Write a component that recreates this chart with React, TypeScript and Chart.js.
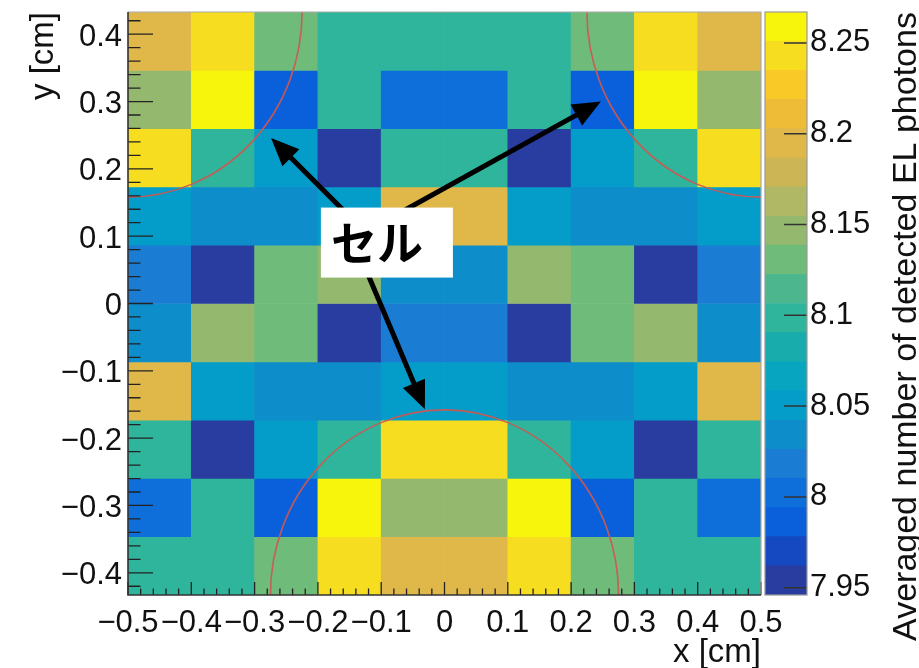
import React, { useEffect, useRef } from 'react';
import { Chart, registerables } from 'chart.js';

Chart.register(...registerables);

// ---------- data ----------
const xBinCenters = [-0.45, -0.35, -0.25, -0.15, -0.05, 0.05, 0.15, 0.25, 0.35, 0.45];
// row edges, top (y = 0.433) to bottom (y = -0.433)
const yBinEdges = [0.433, 0.3464, 0.2598, 0.1732, 0.0866, 0, -0.0866, -0.1732, -0.2598, -0.3464, -0.433];

// Averaged number of detected EL photons, one array per row (top to bottom)
const rowY1 = [8.196, 8.244, 8.130, 8.099, 8.100, 8.100, 8.099, 8.131, 8.243, 8.195];
const rowY2 = [8.147, 8.262, 7.986, 8.098, 8.003, 8.002, 8.099, 7.987, 8.264, 8.148];
const rowY3 = [8.242, 8.097, 8.051, 7.953, 8.098, 8.099, 7.954, 8.050, 8.098, 8.244];
const rowY4 = [8.051, 8.034, 8.035, 8.050, 8.195, 8.196, 8.051, 8.034, 8.035, 8.050];
const rowY5 = [8.018, 7.955, 8.131, 8.146, 8.034, 8.035, 8.147, 8.130, 7.954, 8.019];
const rowY6 = [8.034, 8.147, 8.130, 7.953, 8.019, 8.018, 7.955, 8.131, 8.146, 8.035];
const rowY7 = [8.195, 8.050, 8.035, 8.034, 8.051, 8.050, 8.035, 8.034, 8.051, 8.196];
const rowY8 = [8.099, 7.946, 8.051, 8.100, 8.243, 8.244, 8.098, 8.050, 7.955, 8.099];
const rowY9 = [8.002, 8.099, 7.986, 8.267, 8.147, 8.148, 8.262, 7.987, 8.098, 8.003];
const rowY10 = [8.100, 8.098, 8.131, 8.243, 8.195, 8.196, 8.244, 8.130, 8.099, 8.099];
const rows = [rowY1, rowY2, rowY3, rowY4, rowY5, rowY6, rowY7, rowY8, rowY9, rowY10];

const xTickValues = [-0.5, -0.4, -0.3, -0.2, -0.1, 0, 0.1, 0.2, 0.3, 0.4, 0.5];
const yTickValues = [-0.4, -0.3, -0.2, -0.1, 0, 0.1, 0.2, 0.3, 0.4];
const zTickValues = [7.95, 8, 8.05, 8.1, 8.15, 8.2, 8.25];
const zMin = 7.946;
const zMax = 8.267;
const nBands = 20;

// cells drawn as circles (centre x, centre y, radius in cm)
const cellCircles = [
  { x: -0.5, y: 0.433, r: 0.275 },
  { x: 0.5, y: 0.433, r: 0.275 },
  { x: 0, y: -0.433, r: 0.275 },
];

// callout: label box centre and arrows (data coordinates)
const calloutText = 'セル';
const calloutCenter = { x: -0.091, y: 0.0905 };
const calloutArrows = [
  { x1: -0.157, y1: 0.136, x2: -0.274, y2: 0.246 },
  { x1: -0.068, y1: 0.136, x2: 0.247, y2: 0.300 },
  { x1: -0.124, y1: 0.050, x2: -0.031, y2: -0.157 },
];

// ---------- style ----------
const palette = [
  '#283d9f', '#1549c1', '#0a5fdb', '#0e6fdb', '#1a7dd3',
  '#0e8dcb', '#049cc9', '#08a5c1', '#18acad', '#2eb59c',
  '#4cb78f', '#6fbb7a', '#94b96e', '#b0b765', '#cbb555',
  '#e0b84a', '#efbc38', '#f8c927', '#f6dd1f', '#f8f50c',
];
const FONT = '"Liberation Sans", Arial, Helvetica, sans-serif';

function colorFor(z: number) {
  let i = Math.floor(((z - zMin) / (zMax - zMin)) * nBands);
  if (i < 0) i = 0;
  if (i > nBands - 1) i = nBands - 1;
  return palette[i];
}

function fmt(v: number) {
  const s = String(Math.round(v * 100) / 100);
  return s.replace('-', '\u2212');
}

const mainDecor = {
  id: 'mainDecor',
  afterDatasetsDraw(chart: any) {
    const { ctx, chartArea: a } = chart;
    const xs = chart.scales.x;
    const ys = chart.scales.y;
    // circles
    ctx.save();
    ctx.beginPath();
    ctx.rect(a.left, a.top, a.right - a.left, a.bottom - a.top);
    ctx.clip();
    ctx.strokeStyle = 'rgba(204, 88, 82, 0.95)';
    ctx.lineWidth = 1.6;
    for (const c of cellCircles) {
      const cx = xs.getPixelForValue(c.x);
      const cy = ys.getPixelForValue(c.y);
      const rx = Math.abs(xs.getPixelForValue(c.x + c.r) - cx);
      const ry = Math.abs(ys.getPixelForValue(c.y + c.r) - cy);
      ctx.beginPath();
      ctx.ellipse(cx, cy, rx, ry, 0, 0, Math.PI * 2);
      ctx.stroke();
    }
    ctx.restore();
    // inner ticks
    ctx.save();
    ctx.strokeStyle = '#222';
    ctx.lineWidth = 1.3;
    ctx.beginPath();
    for (let i = 0; i <= 50; i++) {
      const px = xs.getPixelForValue(-0.5 + i * 0.02);
      const len = i % 5 === 0 ? 13 : 6.5;
      ctx.moveTo(px, a.bottom);
      ctx.lineTo(px, a.bottom - len);
    }
    for (let i = -21; i <= 21; i++) {
      const py = ys.getPixelForValue(i * 0.02);
      const len = i % 5 === 0 ? 25 : 12.5;
      ctx.moveTo(a.left, py);
      ctx.lineTo(a.left + len, py);
    }
    ctx.stroke();
    // frame
    ctx.strokeStyle = '#aaa';
    ctx.lineWidth = 1.2;
    ctx.beginPath();
    ctx.moveTo(a.left, a.top);
    ctx.lineTo(a.right, a.top);
    ctx.lineTo(a.right, a.bottom);
    ctx.stroke();
    ctx.strokeStyle = '#333';
    ctx.lineWidth = 1.6;
    ctx.beginPath();
    ctx.moveTo(a.left, a.top);
    ctx.lineTo(a.left, a.bottom);
    ctx.lineTo(a.right, a.bottom);
    ctx.stroke();
    ctx.restore();
  },
  afterDraw(chart: any) {
    const { ctx } = chart;
    const xs = chart.scales.x;
    const ys = chart.scales.y;
    ctx.save();
    ctx.fillStyle = '#000';
    ctx.strokeStyle = '#000';
    for (const ar of calloutArrows) {
      const x1 = xs.getPixelForValue(ar.x1);
      const y1 = ys.getPixelForValue(ar.y1);
      const x2 = xs.getPixelForValue(ar.x2);
      const y2 = ys.getPixelForValue(ar.y2);
      const ang = Math.atan2(y2 - y1, x2 - x1);
      const headLen = 28;
      const headW = 12;
      const bx = x2 - headLen * Math.cos(ang);
      const by = y2 - headLen * Math.sin(ang);
      ctx.lineWidth = 5;
      ctx.beginPath();
      ctx.moveTo(x1, y1);
      ctx.lineTo(bx + 2 * Math.cos(ang), by + 2 * Math.sin(ang));
      ctx.stroke();
      ctx.beginPath();
      ctx.moveTo(x2, y2);
      ctx.lineTo(bx + headW * Math.sin(ang), by - headW * Math.cos(ang));
      ctx.lineTo(bx - headW * Math.sin(ang), by + headW * Math.cos(ang));
      ctx.closePath();
      ctx.fill();
    }
    const cx = xs.getPixelForValue(calloutCenter.x);
    const cy = ys.getPixelForValue(calloutCenter.y);
    const bw = 132;
    const bh = 70;
    ctx.fillStyle = '#fff';
    ctx.fillRect(cx - bw / 2, cy - bh / 2, bw, bh);
    ctx.fillStyle = '#000';
    ctx.font = 'bold 46px "Noto Sans CJK JP", sans-serif';
    ctx.textAlign = 'left';
    ctx.textBaseline = 'middle';
    ctx.fillText(calloutText, cx - bw / 2 + 10, cy);
    ctx.restore();
  },
};

const barDecor = {
  id: 'barDecor',
  afterDatasetsDraw(chart: any) {
    const { ctx, chartArea: a } = chart;
    const ys = chart.scales.y;
    ctx.save();
    ctx.strokeStyle = '#333';
    ctx.lineWidth = 1.5;
    ctx.beginPath();
    for (const v of zTickValues) {
      const py = ys.getPixelForValue(v);
      ctx.moveTo(a.right - 23, py);
      ctx.lineTo(a.right, py);
    }
    ctx.stroke();
    ctx.strokeStyle = '#999';
    ctx.lineWidth = 1.2;
    ctx.strokeRect(a.left, a.top, a.right - a.left, a.bottom - a.top);
    ctx.restore();
  },
  afterDraw(chart: any) {
    const { ctx, chartArea: a } = chart;
    ctx.save();
    ctx.fillStyle = '#111';
    ctx.font = `34px ${FONT}`;
    ctx.textAlign = 'center';
    ctx.textBaseline = 'alphabetic';
    ctx.translate(175, (a.top + a.bottom) / 2 + 23);
    ctx.rotate(-Math.PI / 2);
    ctx.fillText('Averaged number of detected EL photons', 0, 0);
    ctx.restore();
  },
};

export default function App() {
  const mainRef = useRef<HTMLCanvasElement>(null);
  const barRef = useRef<HTMLCanvasElement>(null);

  useEffect(() => {
    const datasets = rows.map((row, r) => ({
      label: 'row' + r,
      data: row.map((z, c) => ({ x: xBinCenters[c], y: [yBinEdges[r + 1], yBinEdges[r]], z })),
      backgroundColor: row.map((z) => colorFor(z)),
      borderWidth: 0,
      grouped: false,
      barPercentage: 1,
      categoryPercentage: 1,
    }));

    const main = new Chart(mainRef.current as HTMLCanvasElement, {
      type: 'bar',
      data: { datasets } as any,
      plugins: [mainDecor],
      options: {
        animation: false,
        responsive: false,
        maintainAspectRatio: false,
        events: [],
        layout: { padding: { top: 12, right: 158, bottom: 0, left: 0 } },
        plugins: { legend: { display: false }, tooltip: { enabled: false } },
        scales: {
          x: {
            type: 'linear',
            min: -0.5,
            max: 0.5,
            offset: false,
            afterBuildTicks: (s: any) => {
              s.ticks = xTickValues.map((v) => ({ value: v }));
            },
            afterFit: (s: any) => {
              s.height = 73;
              s.paddingLeft = 0;
              s.paddingRight = 0;
            },
            grid: { display: false, drawTicks: false, offset: false },
            border: { display: false },
            ticks: {
              autoSkip: false,
              maxRotation: 0,
              minRotation: 0,
              padding: 10,
              color: '#111',
              font: { family: FONT, size: 31 },
              callback: (v: any) => fmt(Number(v)),
            },
            title: {
              display: true,
              text: 'x [cm]',
              align: 'end',
              color: '#111',
              font: { family: FONT, size: 33, lineHeight: 0.9 },
              padding: { top: 0, bottom: 0 },
            },
          },
          y: {
            type: 'linear',
            min: -0.433,
            max: 0.433,
            afterBuildTicks: (s: any) => {
              s.ticks = yTickValues.map((v) => ({ value: v }));
            },
            afterFit: (s: any) => {
              s.width = 128;
              s.paddingTop = 0;
              s.paddingBottom = 0;
            },
            grid: { display: false, drawTicks: false },
            border: { display: false },
            ticks: {
              autoSkip: false,
              padding: 6,
              labelOffset: 3,
              color: '#111',
              font: { family: FONT, size: 31 },
              callback: (v: any) => fmt(Number(v)),
            },
            title: {
              display: true,
              text: 'y [cm]',
              align: 'end',
              color: '#111',
              font: { family: FONT, size: 33, lineHeight: 1 },
              padding: { top: 27, bottom: 0 },
            },
          },
        },
      } as any,
    });

    const bandEdges = Array.from({ length: nBands + 1 }, (_, i) => zMin + ((zMax - zMin) * i) / nBands);
    const barSets = palette.map((col, i) => ({
      label: 'band' + i,
      data: [[bandEdges[i], bandEdges[i + 1]]],
      backgroundColor: col,
      borderWidth: 0,
      grouped: false,
      barPercentage: 1,
      categoryPercentage: 1,
    }));

    const bar = new Chart(barRef.current as HTMLCanvasElement, {
      type: 'bar',
      data: { labels: [''], datasets: barSets } as any,
      plugins: [barDecor],
      options: {
        animation: false,
        responsive: false,
        maintainAspectRatio: false,
        events: [],
        layout: { padding: { top: 12, right: 0, bottom: 73, left: 24 } },
        plugins: { legend: { display: false }, tooltip: { enabled: false } },
        scales: {
          x: { display: false },
          y: {
            position: 'right',
            type: 'linear',
            min: zMin,
            max: zMax,
            afterBuildTicks: (s: any) => {
              s.ticks = zTickValues.map((v) => ({ value: v }));
            },
            afterFit: (s: any) => {
              s.width = 112;
              s.paddingTop = 0;
              s.paddingBottom = 0;
            },
            grid: { display: false, drawTicks: false },
            border: { display: false },
            ticks: {
              autoSkip: false,
              padding: 3,
              color: '#111',
              font: { family: FONT, size: 31 },
              callback: (v: any) => fmt(Number(v)),
            },
          },
        },
      } as any,
    });

    return () => {
      main.destroy();
      bar.destroy();
    };
  }, []);

  return (
    <div
      style={{
        position: 'absolute',
        left: 0,
        top: 0,
        width: 919,
        height: 668,
        background: '#fff',
        overflow: 'hidden',
      }}
    >
      <canvas ref={mainRef} width={919} height={668} style={{ position: 'absolute', left: 0, top: 0 }} />
      <canvas ref={barRef} width={178} height={668} style={{ position: 'absolute', left: 741, top: 0 }} />
    </div>
  );
}
